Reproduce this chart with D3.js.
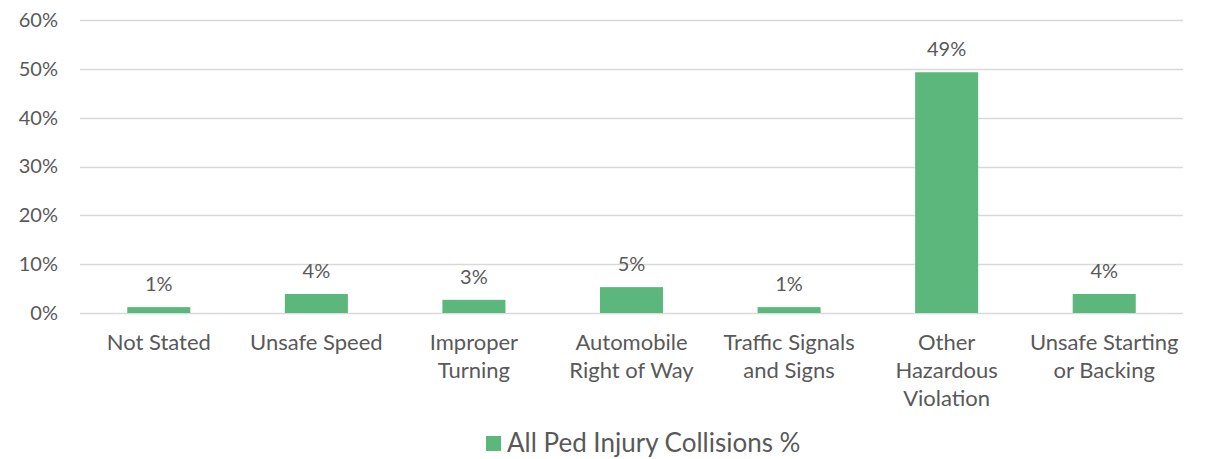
<!DOCTYPE html>
<html>
<head>
<meta charset="utf-8">
<script src="https://cdn.jsdelivr.net/npm/d3@7"></script>
<style>
  body { margin: 0; background: #fff; }
  text { font-family: Lato, "Open Sans", sans-serif; fill: #595959; }
</style>
</head>
<body>
<div id="chart"></div>
<script>
// chart data
const categories = ["Not Stated", "Unsafe Speed", "Improper Turning", "Automobile Right of Way",
  "Traffic Signals and Signs", "Other Hazardous Violation", "Unsafe Starting or Backing"];
const categoryLines = [
  ["Not Stated"],
  ["Unsafe Speed"],
  ["Improper", "Turning"],
  ["Automobile", "Right of Way"],
  ["Traffic Signals", "and Signs"],
  ["Other", "Hazardous", "Violation"],
  ["Unsafe Starting", "or Backing"]
];
const values = [1.2, 3.9, 2.7, 5.3, 1.2, 49.3, 3.9];
const yTicks = [0, 10, 20, 30, 40, 50, 60];
const seriesName = "All Ped Injury Collisions %";

var width = 1208;
var height = 459;
var margin = {top: 20, right: 25, bottom: 146, left: 80};
var green = "#5cb77d";

var svg = d3.select("#chart")
  .append("svg")
  .attr("width", width)
  .attr("height", height);

var x = d3.scaleBand()
  .domain(categories)
  .range([margin.left, width - margin.right])
  .paddingInner(0.6)
  .paddingOuter(0.3);

var y = d3.scaleLinear()
  .domain([0, 60])
  .range([height - margin.bottom, margin.top]);

// gridlines
svg.append("g")
  .selectAll("line")
  .data(yTicks)
  .enter()
  .append("line")
  .attr("x1", margin.left)
  .attr("x2", width - margin.right)
  .attr("y1", d => Math.round(y(d)) + 0.5)
  .attr("y2", d => Math.round(y(d)) + 0.5)
  .attr("stroke", "#d9d9d9")
  .attr("stroke-width", 1.5);

// y axis labels
var yAxis = d3.axisLeft(y)
  .tickValues(yTicks)
  .tickFormat(d => d + "%")
  .tickSize(0)
  .tickPadding(22);
svg.append("g")
  .attr("transform", "translate(" + margin.left + ",0)")
  .call(yAxis)
  .call(g => g.select(".domain").remove())
  .selectAll("text")
  .style("font-size", "20px")
  .style("font-family", "Lato, sans-serif")
  .attr("fill", "#595959");

// bars
svg.append("g")
  .selectAll("rect")
  .data(values)
  .enter()
  .append("rect")
  .attr("x", (d, i) => x(categories[i]))
  .attr("width", x.bandwidth())
  .attr("y", d => y(d))
  .attr("height", d => y(0) - y(d))
  .attr("fill", green);

// data labels
svg.append("g")
  .selectAll("text")
  .data(values)
  .enter()
  .append("text")
  .attr("x", (d, i) => x(categories[i]) + x.bandwidth() / 2)
  .attr("y", d => y(d) - 16)
  .attr("text-anchor", "middle")
  .style("font-size", "20px")
  .text(d => Math.round(d) + "%");

// category labels
var catG = svg.append("g")
  .selectAll("text")
  .data(categoryLines)
  .enter()
  .append("text")
  .attr("text-anchor", "middle")
  .style("font-size", "22px")
  .attr("transform", (d, i) => "translate(" + (x(categories[i]) + x.bandwidth() / 2) + "," + (y(0) + 37) + ")");

catG.selectAll("tspan")
  .data(d => d)
  .enter()
  .append("tspan")
  .attr("x", 0)
  .attr("y", (d, i) => i * 28)
  .text(d => d);

// legend
var legend = svg.append("g");
legend.append("rect")
  .attr("x", 486)
  .attr("y", 436)
  .attr("width", 15)
  .attr("height", 15)
  .attr("fill", green);
legend.append("text")
  .attr("x", 507)
  .attr("y", 452)
  .style("font-size", "26px")
  .text(seriesName);
</script>
</body>
</html>
